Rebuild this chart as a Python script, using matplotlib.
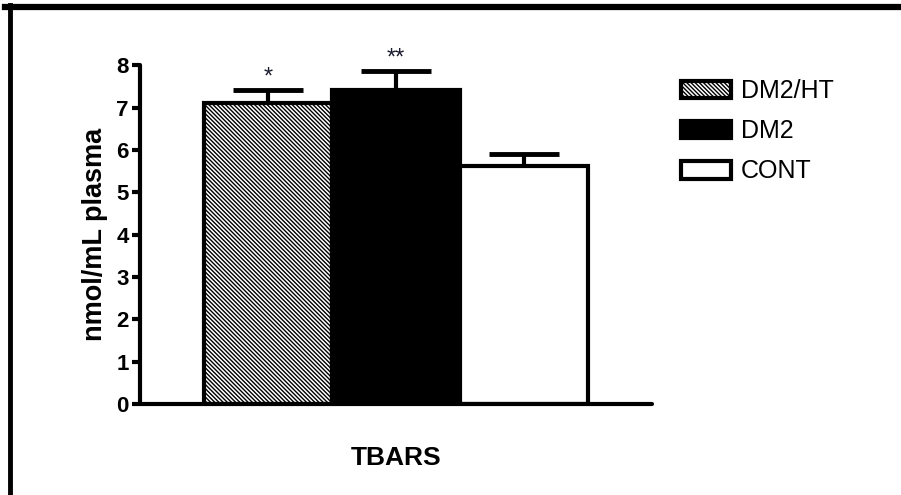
import numpy as np
import matplotlib
matplotlib.use("Agg")
import matplotlib.pyplot as plt
from matplotlib.lines import Line2D

plt.rcParams["font.family"] = ["Liberation Sans", "DejaVu Sans"]
plt.rcParams["hatch.linewidth"] = 1.0
plt.rcParams["hatch.color"] = "black"

# data
groups = ["DM2/HT", "DM2", "CONT"]
means = [7.10, 7.43, 5.62]
errors = [0.33, 0.44, 0.29]
stars = ["*", "**", ""]
ticks = [0, 1, 2, 3, 4, 5, 6, 7, 8]

fig = plt.figure(figsize=(9.01, 4.95), dpi=100)
ax = fig.add_axes([140 / 901, 91 / 495, 512 / 901, 338.6 / 495])

x = np.arange(1, len(groups) + 1)
faces = ["white", "black", "white"]
hatches = ["\\" * 8, None, None]

bars = []
for xi, m, fc, h, lab in zip(x, means, faces, hatches, groups):
    b = ax.bar(xi, m, width=1.0, facecolor=fc, edgecolor="black",
               linewidth=3, hatch=h, label=lab, zorder=2)
    bars.append(b)

# upper error bars only
ax.errorbar(x, means, yerr=[np.zeros(len(x)), errors], fmt="none",
            ecolor="black", elinewidth=3, capsize=25, capthick=3.5, zorder=1)

for xi, m, e, s in zip(x, means, errors, stars):
    if s:
        ax.annotate(s, (xi, m + e), xytext=(0, 1), textcoords="offset points",
                    ha="center", va="bottom", fontsize=17, color="#1a1a2e")

ax.set_xlim(0, 4)
ax.set_ylim(0, 8)
ax.set_yticks(ticks)
ax.set_yticklabels([str(t) for t in ticks], fontsize=16, fontweight="bold")
ax.set_xticks([])
ax.tick_params(axis="y", direction="out", length=6, width=3, pad=2)

for side in ["top", "right"]:
    ax.spines[side].set_visible(False)
for side in ["left", "bottom"]:
    ax.spines[side].set_linewidth(3)
    ax.spines[side].set_capstyle("round")

ax.set_ylabel("nmol/mL plasma", fontsize=19.5, fontweight="bold", labelpad=6)
ax.set_xlabel("TBARS", fontsize=19, fontweight="bold", labelpad=30)

fig.legend(handles=[b[0] for b in bars], labels=groups,
           loc="upper left", bbox_to_anchor=(681 / 901, 1 - 79 / 495),
           frameon=False, fontsize=18, handlelength=2.0, handleheight=0.7,
           handletextpad=0.4, labelspacing=0.65, borderpad=0, borderaxespad=0)

# outer frame: only top and left edges are visible
fig.add_artist(Line2D([5 / 901, 1], [1 - 7 / 495, 1 - 7 / 495],
                      transform=fig.transFigure, color="black", linewidth=4.5))
fig.add_artist(Line2D([10 / 901, 10 / 901], [0, 1 - 5 / 495],
                      transform=fig.transFigure, color="black", linewidth=3.5))

fig.savefig("out.png", dpi=100)
